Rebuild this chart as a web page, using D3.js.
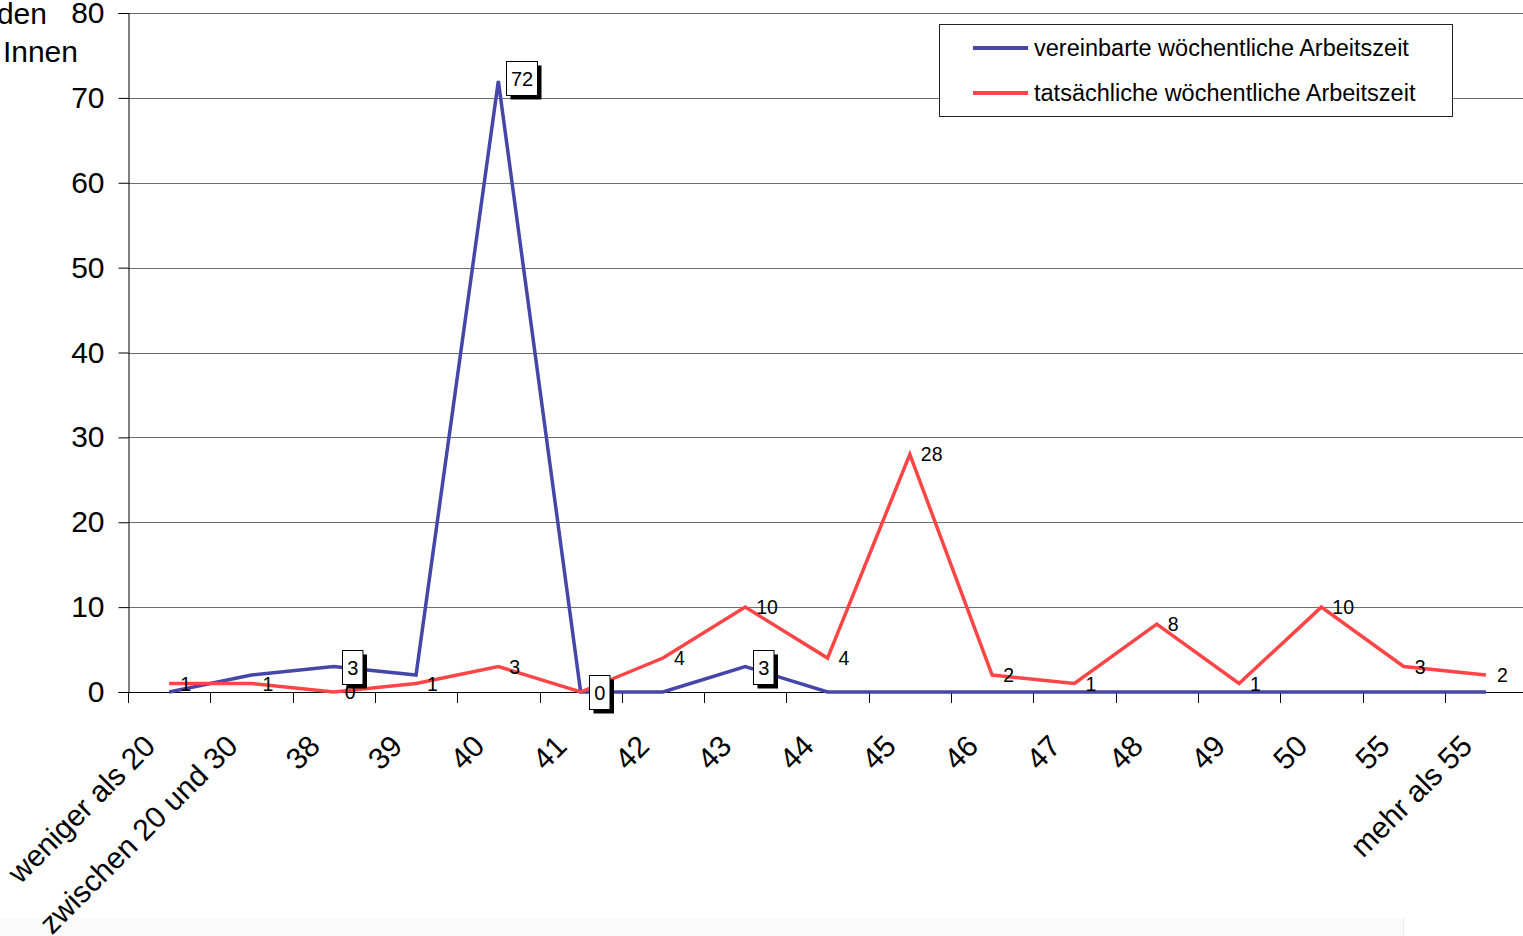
<!DOCTYPE html>
<html>
<head>
<meta charset="utf-8">
<script src="https://cdnjs.cloudflare.com/ajax/libs/d3/7.8.5/d3.min.js"></script>
<style>
  body { margin: 0; background: #fff; }
  svg { display: block; font-family: "Liberation Sans", Arial, sans-serif; }
</style>
</head>
<body>
<svg id="chart" width="1523" height="936"></svg>
<script>
// categories (hours per week)
const categories = ["weniger als 20", "zwischen 20 und 30", "38", "39", "40", "41", "42", "43",
  "44", "45", "46", "47", "48", "49", "50", "55", "mehr als 55"];
// vereinbarte woechentliche Arbeitszeit
const vereinbart = [0, 2, 3, 2, 72, 0, 0, 3, 0, 0, 0, 0, 0, 0, 0, 0, 0];
// tatsaechliche woechentliche Arbeitszeit
const tatsaechlich = [1, 1, 0, 1, 3, 0, 4, 10, 4, 28, 2, 1, 8, 1, 10, 3, 2];
// which points of the blue series carry a (boxed) label
const blueLabelled = ["38", "40", "41", "43"];
const yTicks = [0, 10, 20, 30, 40, 50, 60, 70, 80];
const seriesNames = ["vereinbarte wöchentliche Arbeitszeit", "tatsächliche wöchentliche Arbeitszeit"];
const colors = ["#4646a8", "#ff4545"];

const svg = d3.select("#chart");
const W = 1523;
const plotLeft = 128, plotBottom = 692, plotTop = 13;
const axisFont = 30;

const x = d3.scaleBand().domain(categories).range([plotLeft, plotLeft + 17 * 82.3]).padding(0);
const y = d3.scaleLinear().domain([0, 80]).range([plotBottom, plotTop]);
const cx = c => x(c) + x.bandwidth() / 2;

// faint strip at the bottom
svg.append("rect").attr("x", 0).attr("y", 918).attr("width", 1403).attr("height", 18)
  .attr("fill", "#fbfbfb");
svg.append("line").attr("x1", 1403.5).attr("x2", 1403.5).attr("y1", 918).attr("y2", 936)
  .attr("stroke", "#ececec");

// gridlines
svg.append("g").selectAll("line").data(yTicks.filter(d => d > 0)).enter().append("line")
  .attr("x1", plotLeft).attr("x2", W)
  .attr("y1", d => Math.round(y(d)) + 0.5).attr("y2", d => Math.round(y(d)) + 0.5)
  .attr("stroke", "#6e6e6e").attr("stroke-width", 1);

// y axis
const yAxis = svg.append("g").attr("transform", `translate(${plotLeft + 0.5},0)`)
  .call(d3.axisLeft(y).tickValues(yTicks).tickSize(10).tickPadding(14));
yAxis.select(".domain").attr("stroke", "#000");
yAxis.selectAll(".tick line").attr("stroke", "#000");
yAxis.selectAll(".tick text").attr("font-size", axisFont).attr("fill", "#000")
  .attr("font-family", "Liberation Sans, Arial, sans-serif");

// y axis title (cut off at the left edge, as in the original)
svg.append("text").attr("x", 47).attr("y", 24).attr("text-anchor", "end")
  .attr("font-size", axisFont).text("Anzahl der Befragten/ Antwortenden");
svg.append("text").attr("x", 78).attr("y", 62).attr("text-anchor", "end")
  .attr("font-size", axisFont).text("Teilnehmer/ Innen");

// x axis
svg.append("line").attr("x1", plotLeft).attr("x2", W)
  .attr("y1", plotBottom + 0.5).attr("y2", plotBottom + 0.5).attr("stroke", "#000");
svg.append("g").selectAll("line").data(categories).enter().append("line")
  .attr("x1", d => Math.round(x(d)) + 0.5).attr("x2", d => Math.round(x(d)) + 0.5)
  .attr("y1", plotBottom).attr("y2", plotBottom + 11).attr("stroke", "#000");
svg.append("line").attr("x1", Math.round(x.range()[1]) + 0.5).attr("x2", Math.round(x.range()[1]) + 0.5)
  .attr("y1", plotBottom).attr("y2", plotBottom + 11).attr("stroke", "#000");

svg.append("g").selectAll("text").data(categories).enter().append("text")
  .attr("transform", d => `translate(${cx(d) - 12},748) rotate(-45)`)
  .attr("text-anchor", "end").attr("font-size", axisFont).text(d => d);

// lines
const line = d3.line().x((d, i) => cx(categories[i])).y(d => y(d));
[vereinbart, tatsaechlich].forEach((s, k) => {
  svg.append("path").datum(s).attr("d", line).attr("fill", "none")
    .attr("stroke", colors[k]).attr("stroke-width", 3.5).attr("stroke-linejoin", "miter");
});

// red labels (the one at 41 lies under the blue box and is not visible)
svg.append("g").selectAll("text")
  .data(tatsaechlich.map((v, i) => ({ c: categories[i], v })).filter(d => d.c !== "41"))
  .enter().append("text")
  .attr("x", d => cx(d.c) + 11)
  .attr("y", d => y(d.v) + 7)
  .attr("font-size", 19.5).text(d => d.v);

// boxed blue labels
const boxes = svg.append("g").selectAll("g")
  .data(categories.map((c, i) => ({ c, v: vereinbart[i] })).filter(d => blueLabelled.includes(d.c)))
  .enter().append("g")
  .attr("transform", d => `translate(${Math.round(cx(d.c)) + 8},${Math.round(y(d.v)) - (d.v > 50 ? 20 : 17)})`);
const bw = d => String(d.v).length * 10.5 + 10;
boxes.append("rect").attr("x", 4.5).attr("y", 4.5).attr("width", bw).attr("height", 34).attr("fill", "#000");
boxes.append("rect").attr("x", 0.5).attr("y", 0.5).attr("width", bw).attr("height", 34)
  .attr("fill", "#fff").attr("stroke", "#000");
boxes.append("text").attr("x", d => bw(d) / 2 + 0.5).attr("y", 24.5).attr("text-anchor", "middle")
  .attr("font-size", 20).text(d => d.v);

// legend
const lg = svg.append("g");
lg.append("rect").attr("x", 939.5).attr("y", 24.5).attr("width", 513).attr("height", 92)
  .attr("fill", "#fff").attr("stroke", "#222");
seriesNames.forEach((n, k) => {
  const ly = 48 + k * 45;
  lg.append("line").attr("x1", 973).attr("x2", 1028).attr("y1", ly).attr("y2", ly)
    .attr("stroke", colors[k]).attr("stroke-width", 4);
  lg.append("text").attr("x", 1034).attr("y", ly + 8).attr("font-size", 23.5).text(n);
});
</script>
</body>
</html>
